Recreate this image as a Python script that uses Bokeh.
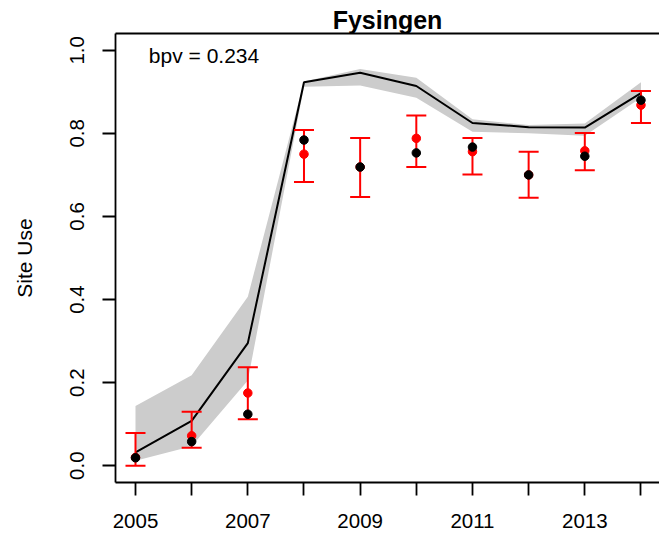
from bokeh.plotting import figure
from bokeh.models import (Range1d, FixedTicker, Whisker, TeeHead, ColumnDataSource, Label,
                          LinearAxis)
from bokeh.embed import file_html
from bokeh.resources import INLINE

# ---- data ----
years = [2005, 2006, 2007, 2008, 2009, 2010, 2011, 2012, 2013, 2014]
model_mean = [0.032, 0.108, 0.295, 0.923, 0.946, 0.914, 0.825, 0.815, 0.814, 0.897]
band_lo = [0.012, 0.047, 0.205, 0.912, 0.915, 0.886, 0.804, 0.800, 0.794, 0.886]
band_hi = [0.144, 0.218, 0.407, 0.925, 0.955, 0.934, 0.834, 0.820, 0.824, 0.923]
observed = [0.020, 0.072, 0.175, 0.750, 0.719, 0.788, 0.756, 0.700, 0.758, 0.868]
estimate = [0.019, 0.058, 0.124, 0.784, 0.719, 0.753, 0.767, 0.700, 0.745, 0.880]
err_lo = [0.000, 0.043, 0.112, 0.683, 0.647, 0.719, 0.701, 0.645, 0.711, 0.825]
err_hi = [0.079, 0.130, 0.237, 0.808, 0.789, 0.843, 0.789, 0.756, 0.801, 0.902]

x_tick_labels = ["2005", "", "2007", "", "2009", "", "2011", "", "2013", ""]
y_ticks = [0.0, 0.2, 0.4, 0.6, 0.8, 1.0]
y_tick_labels = ["0.0", "0.2", "0.4", "0.6", "0.8", "1.0"]

title_text = "Fysingen"
y_label = "Site Use"
bpv_text = "bpv = 0.234"

FONT = "Liberation Sans"

src = ColumnDataSource(dict(year=years, mean=model_mean, band_lo=band_lo, band_hi=band_hi,
                            obs=observed, est=estimate, err_lo=err_lo, err_hi=err_hi))

p = figure(width=659, height=534, output_backend="svg", toolbar_location=None,
           x_range=Range1d(2004.644, 2014.33), y_range=Range1d(-0.0404, 1.0404),
           min_border_left=115, min_border_right=0, min_border_top=33, min_border_bottom=52,
           title=title_text)

p.background_fill_color = "white"
p.border_fill_color = "white"
p.outline_line_color = None   # box drawn by the left, bottom and top axis lines
p.xgrid.visible = False
p.ygrid.visible = False

p.title.text_font = FONT
p.title.text_font_size = "25px"
p.title.text_font_style = "bold"
p.title.text_color = "black"
p.title.align = "center"
p.title.standoff = -1

# x axis
xa = p.xaxis[0]
xa.ticker = FixedTicker(ticks=years, minor_ticks=[])
xa.major_label_overrides = {y: lab for y, lab in zip(years, x_tick_labels)}
xa.major_tick_in = 0
xa.major_tick_out = 13
xa.minor_tick_out = 0
xa.minor_tick_in = 0
xa.major_tick_line_width = 1.8
xa.axis_line_width = 1.8
xa.major_label_standoff = 18
xa.major_label_text_font = FONT
xa.major_label_text_font_size = "20.5px"
xa.major_label_text_color = "black"

# top edge of the box (no ticks, no labels)
top = LinearAxis(ticker=FixedTicker(ticks=[], minor_ticks=[]), major_tick_out=0,
                 major_tick_in=0, minor_tick_out=0, minor_tick_in=0,
                 major_label_text_font_size="0px", major_label_standoff=0,
                 axis_line_width=1.8, axis_line_color="black")
p.add_layout(top, "above")

# y axis
ya = p.yaxis[0]
ya.ticker = FixedTicker(ticks=y_ticks, minor_ticks=[])
ya.major_label_overrides = {t: lab for t, lab in zip(y_ticks, y_tick_labels)}
ya.major_label_orientation = "vertical"
ya.major_tick_in = 0
ya.major_tick_out = 13
ya.minor_tick_out = 0
ya.minor_tick_in = 0
ya.major_tick_line_width = 1.8
ya.axis_line_width = 1.8
ya.major_label_standoff = 18
ya.major_label_text_font = FONT
ya.major_label_text_font_size = "20.5px"
ya.major_label_text_color = "black"
ya.axis_label = y_label
ya.axis_label_text_font = FONT
ya.axis_label_text_font_size = "21px"
ya.axis_label_text_font_style = "normal"
ya.axis_label_text_color = "black"
ya.axis_label_standoff = 32

# credible band and model line
p.varea(x="year", y1="band_lo", y2="band_hi", source=src, fill_color="#CCCCCC",
        fill_alpha=1.0, level="underlay")
p.line(x="year", y="mean", source=src, line_color="black", line_width=2, level="underlay")

# error bars
w = Whisker(base="year", lower="err_lo", upper="err_hi", source=src,
            line_color="red", line_width=2, level="underlay",
            upper_head=TeeHead(size=20, line_color="red", line_width=2),
            lower_head=TeeHead(size=20, line_color="red", line_width=2))
p.add_layout(w)

# points
p.scatter(x="year", y="obs", source=src, size=8.5, fill_color="red", line_color="red")
p.scatter(x="year", y="est", source=src, size=8.5, fill_color="black", line_color="black")

p.add_layout(Label(x=2006.22, y=0.988, text=bpv_text, text_align="center",
                   text_baseline="alphabetic", text_font=FONT, text_font_size="21px",
                   text_color="black"))

open("out.html", "w").write(file_html(p, INLINE))
